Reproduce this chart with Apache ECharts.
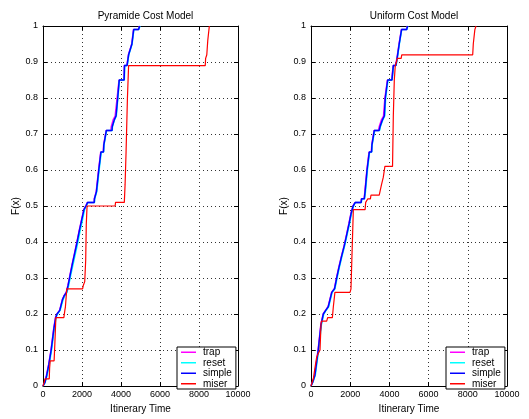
<!DOCTYPE html>
<html>
<head>
<meta charset="utf-8">
<script src="https://cdn.jsdelivr.net/npm/echarts@6/dist/echarts.min.js"></script>
<style>
html,body{margin:0;padding:0;background:#fff;}
#chart{width:529px;height:419px;}
</style>
</head>
<body>
<div id="chart"></div>
<script>
// ---- data (x = itinerary time, F = cumulative fraction) ----
const titles = ['Pyramide Cost Model', 'Uniform Cost Model'];
const seriesNames = ['trap', 'reset', 'simple', 'miser'];
const seriesColors = ['#ff00ff', '#00ffff', '#0000ff', '#ff0000'];
const xTicks = [0, 2000, 4000, 6000, 8000, 10000];
const yTicks = [0, 0.1, 0.2, 0.3, 0.4, 0.5, 0.6, 0.7, 0.8, 0.9, 1];

// Pyramide cost model
const pyrTrap = [[0,0],[90,0.01],[180,0.03],[290,0.06],[410,0.10],[550,0.16],[640,0.19],[710,0.20],[850,0.21],[990,0.24],[1070,0.25],[1190,0.26],[1280,0.28],[1390,0.31],[1500,0.34],[1620,0.37],[1740,0.40],[1850,0.43],[1970,0.46],[2090,0.49],[2190,0.50],[2280,0.51],[2620,0.51],[2630,0.52],[2720,0.52],[2730,0.54],[2850,0.60],[2960,0.65],[3090,0.65],[3110,0.67],[3240,0.71],[3480,0.71],[3500,0.72],[3600,0.74],[3700,0.75],[3800,0.80],[3900,0.85],[4150,0.85],[4170,0.89],[4300,0.89],[4380,0.92],[4550,0.95],[4640,0.99],[4890,0.99],[4950,1.0]];
const pyrReset = [[0,0],[110,0.01],[210,0.03],[320,0.06],[440,0.10],[580,0.16],[670,0.19],[740,0.20],[880,0.21],[1030,0.24],[1110,0.25],[1230,0.26],[1320,0.28],[1430,0.31],[1550,0.34],[1670,0.37],[1790,0.40],[1900,0.43],[2020,0.46],[2130,0.49],[2220,0.50],[2300,0.51],[2640,0.51],[2650,0.52],[2740,0.52],[2760,0.54],[2880,0.60],[2990,0.65],[3110,0.65],[3130,0.67],[3260,0.71],[3550,0.71],[3560,0.72],[3670,0.74],[3760,0.75],[3840,0.80],[3920,0.85],[4170,0.85],[4190,0.89],[4320,0.89],[4400,0.92],[4570,0.95],[4660,0.99],[4910,0.99],[4970,1.0]];
const pyrSimple = [[0,0],[100,0.01],[190,0.03],[300,0.06],[420,0.10],[560,0.16],[650,0.19],[720,0.20],[860,0.21],[1000,0.24],[1080,0.25],[1200,0.26],[1290,0.28],[1400,0.31],[1510,0.34],[1630,0.37],[1750,0.40],[1860,0.43],[1980,0.46],[2100,0.49],[2200,0.50],[2290,0.51],[2630,0.51],[2640,0.52],[2730,0.52],[2740,0.54],[2860,0.60],[2970,0.65],[3100,0.65],[3120,0.67],[3250,0.71],[3540,0.71],[3550,0.72],[3660,0.74],[3745,0.75],[3830,0.80],[3910,0.85],[4160,0.85],[4180,0.89],[4310,0.89],[4390,0.92],[4560,0.95],[4650,0.99],[4900,0.99],[4960,1.0]];
const pyrMiser = [[0,0],[60,0.01],[100,0.02],[320,0.02],[340,0.05],[370,0.07],[570,0.07],[610,0.12],[660,0.19],[1070,0.19],[1120,0.21],[1150,0.22],[1220,0.27],[2030,0.27],[2070,0.28],[2140,0.29],[2190,0.35],[2220,0.45],[2260,0.50],[3700,0.50],[3720,0.51],[4170,0.51],[4210,0.56],[4260,0.65],[4330,0.80],[4390,0.89],[8320,0.89],[8340,0.91],[8400,0.92],[8450,0.96],[8530,1.0]];

// Uniform cost model
const uniTrap = [[0,0],[70,0.01],[190,0.03],[360,0.10],[500,0.17],[620,0.20],[740,0.21],[870,0.22],[960,0.24],[1050,0.26],[1190,0.27],[1300,0.30],[1420,0.33],[1550,0.36],[1690,0.39],[1810,0.42],[1930,0.45],[2040,0.48],[2140,0.50],[2250,0.51],[2550,0.51],[2570,0.52],[2710,0.52],[2750,0.54],[2850,0.60],[2960,0.65],[3080,0.65],[3100,0.67],[3220,0.71],[3440,0.71],[3480,0.72],[3600,0.74],[3700,0.75],[3770,0.80],[3900,0.85],[4120,0.85],[4190,0.89],[4320,0.89],[4410,0.92],[4490,0.95],[4610,0.99],[4870,0.99],[4920,1.0]];
const uniReset = [[0,0],[90,0.01],[220,0.03],[390,0.10],[530,0.17],[650,0.20],[770,0.21],[900,0.22],[990,0.24],[1080,0.26],[1220,0.27],[1330,0.30],[1450,0.33],[1580,0.36],[1720,0.39],[1840,0.42],[1960,0.45],[2070,0.48],[2170,0.50],[2270,0.51],[2570,0.51],[2590,0.52],[2730,0.52],[2780,0.54],[2880,0.60],[2990,0.65],[3100,0.65],[3120,0.67],[3250,0.71],[3500,0.71],[3540,0.72],[3670,0.74],[3760,0.75],[3810,0.80],[3930,0.85],[4140,0.85],[4210,0.89],[4340,0.89],[4430,0.92],[4510,0.95],[4630,0.99],[4890,0.99],[4940,1.0]];
const uniSimple = [[0,0],[80,0.01],[200,0.03],[370,0.10],[510,0.17],[630,0.20],[750,0.21],[880,0.22],[970,0.24],[1060,0.26],[1200,0.27],[1310,0.30],[1430,0.33],[1560,0.36],[1700,0.39],[1820,0.42],[1940,0.45],[2050,0.48],[2150,0.50],[2260,0.51],[2560,0.51],[2580,0.52],[2720,0.52],[2760,0.54],[2860,0.60],[2975,0.65],[3090,0.65],[3110,0.67],[3230,0.71],[3480,0.71],[3520,0.72],[3650,0.74],[3740,0.75],[3790,0.80],[3910,0.85],[4130,0.85],[4200,0.89],[4330,0.89],[4420,0.92],[4500,0.95],[4620,0.99],[4880,0.99],[4930,1.0]];
const uniMiser = [[0,0],[60,0.01],[120,0.02],[200,0.05],[290,0.08],[370,0.09],[460,0.10],[510,0.17],[530,0.18],[800,0.18],[850,0.19],[1090,0.19],[1140,0.22],[1220,0.26],[1990,0.26],[2040,0.27],[2110,0.27],[2160,0.49],[2760,0.49],[2790,0.51],[2880,0.51],[2900,0.52],[3030,0.52],[3060,0.53],[3480,0.53],[3520,0.54],[3600,0.56],[3690,0.58],[3770,0.61],[4160,0.61],[4200,0.75],[4250,0.85],[4300,0.89],[4360,0.90],[4400,0.91],[4600,0.91],[4630,0.92],[8250,0.92],[8280,0.95],[8360,0.99],[8420,1.0]];

const panelData = [
  [pyrTrap, pyrReset, pyrSimple, pyrMiser],
  [uniTrap, uniReset, uniSimple, uniMiser]
];

// ---- layout ----
const FONT = 'Liberation Sans, Arial, Helvetica, sans-serif';
const grids = [
  {left: 43, top: 26, width: 195, height: 366},
  {left: 311, top: 26, width: 196, height: 366}
];

const chart = echarts.init(document.getElementById('chart'), null, {renderer: 'canvas'});

const xAxes = [], yAxes = [], series = [], titleArr = [], legends = [];
grids.forEach((g, gi) => {
  const common = {
    type: 'value', gridIndex: gi,
    axisLine: {show: true, onZero: false, lineStyle: {color: '#000', width: 1}},
    axisTick: {show: true, inside: true, length: 4, lineStyle: {color: '#000'}}
  };
  xAxes.push(Object.assign({}, common, {
    position: 'bottom', min: xTicks[0], max: xTicks[xTicks.length - 1], interval: xTicks[1] - xTicks[0],
    axisLabel: {color: '#000', fontSize: 9, fontFamily: FONT, margin: 4, formatter: v => String(v)},
    splitLine: {show: true, lineStyle: {color: '#333', type: [1, 3], width: 1}},
    name: 'Itinerary Time', nameLocation: 'middle', nameGap: 18,
    nameTextStyle: {color: '#000', fontSize: 10, fontFamily: FONT}
  }));
  xAxes.push(Object.assign({}, common, {
    position: 'top', min: xTicks[0], max: xTicks[xTicks.length - 1], interval: xTicks[1] - xTicks[0],
    axisLabel: {show: false}, splitLine: {show: false}
  }));
  yAxes.push(Object.assign({}, common, {
    position: 'left', min: yTicks[0], max: yTicks[yTicks.length - 1], interval: 0.1,
    axisLabel: {color: '#000', fontSize: 9, fontFamily: FONT, margin: 5,
      formatter: v => String(Math.round(v * 10) / 10)},
    splitLine: {show: true, lineStyle: {color: '#333', type: [1, 3], width: 1}},
    name: 'F(x)', nameLocation: 'middle', nameGap: 19, nameRotate: 90,
    nameTextStyle: {color: '#000', fontSize: 10, fontFamily: FONT}
  }));
  yAxes.push(Object.assign({}, common, {
    position: 'right', min: yTicks[0], max: yTicks[yTicks.length - 1], interval: 0.1,
    axisLabel: {show: false}, splitLine: {show: false}
  }));
  titleArr.push({
    text: titles[gi], left: g.left + g.width / 2, top: 6, textAlign: 'center',
    textStyle: {color: '#000', fontSize: 10, fontWeight: 'normal', fontFamily: FONT}
  });
  legends.push({
    data: seriesNames.slice(), orient: 'vertical',
    left: g.left + g.width - 61, top: 347,
    backgroundColor: '#fff', borderColor: '#000', borderWidth: 1,
    padding: [0, 4, 0, 4], itemGap: 0, itemWidth: 15, itemHeight: 1.5,
    icon: 'rect', selectedMode: false,
    textStyle: {color: '#000', fontSize: 10, fontFamily: FONT, lineHeight: 10.5, padding: [0, 0, 0, 2]}
  });
  seriesNames.forEach((name, si) => {
    series.push({
      name: name, type: 'line', xAxisIndex: gi * 2, yAxisIndex: gi * 2,
      data: panelData[gi][si], showSymbol: false, symbol: 'none',
      lineStyle: {color: seriesColors[si], width: si === 3 ? 1.2 : 1.5},
      itemStyle: {color: seriesColors[si]},
      emphasis: {disabled: true}, animation: false, z: 2 + si
    });
  });
});

chart.setOption({
  backgroundColor: '#fff',
  animation: false,
  title: titleArr,
  legend: legends,
  grid: grids,
  xAxis: xAxes,
  yAxis: yAxes,
  series: series
});
</script>
</body>
</html>
